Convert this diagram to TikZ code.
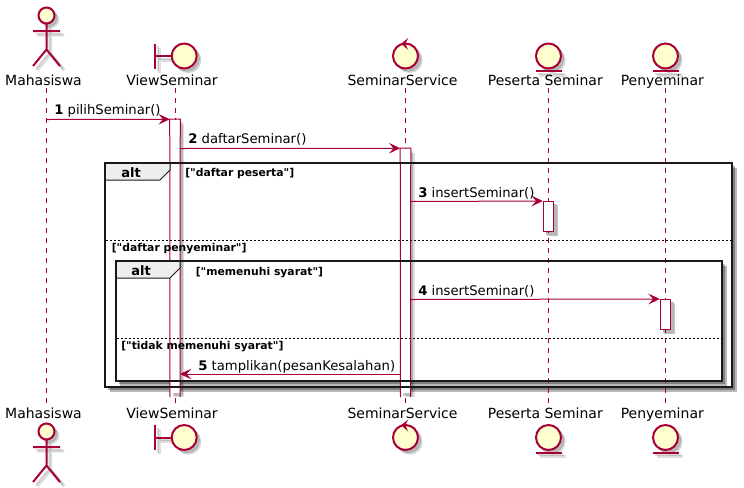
\documentclass[tikz,border=0pt]{standalone}
\usepackage{fontspec}
\setmainfont{DejaVu Sans}
\newfontfamily\guardfont{DejaVu Sans}
\usepackage{tikz}
\usetikzlibrary{positioning,fit,arrows.meta}
\definecolor{umlred}{HTML}{A80036}
\definecolor{umlcream}{HTML}{FEFECE}
\definecolor{tabgray}{HTML}{EEEEEE}
\tikzset{
  softshade/.style={
    preaction={draw=black,fill=black,opacity=.13,transform canvas={shift={(3.2pt,-3.2pt)}}},
    preaction={draw=black,fill=black,opacity=.17,transform canvas={shift={(2.2pt,-2.2pt)}}}},
  lineshade/.style={
    preaction={draw=black,opacity=.13,line width=2.2pt,transform canvas={shift={(3.2pt,-3.2pt)}}},
    preaction={draw=black,opacity=.13,line width=1.5pt,transform canvas={shift={(2.2pt,-2.2pt)}}}},
  glyph/.style={draw=umlred,fill=umlcream,line width=1.5pt,softshade},
  glyphline/.style={draw=umlred,line width=1.5pt,lineshade},
  lifeline/.style={draw=umlred,line width=.75pt,dash pattern=on 3.75pt off 3.75pt},
  actbar/.style={draw=umlred,fill=white,line width=.75pt,inner sep=0pt,softshade},
  openbar/.style={fill=white,inner sep=0pt,
    preaction={fill=black,opacity=.13,transform canvas={shift={(3.2pt,-3.2pt)}}},
    preaction={fill=black,opacity=.17,transform canvas={shift={(2.2pt,-2.2pt)}}}},
  baredge/.style={draw=umlred,line width=.75pt},
  msg/.style={draw=umlred,line width=.75pt,-{Stealth[length=8.5pt,width=8pt,inset=3.5pt]}},
  framefill/.style={fill=white,
    preaction={fill=black,opacity=.28,transform canvas={shift={(3.6pt,-3.6pt)}}},
    preaction={fill=black,opacity=.3,transform canvas={shift={(2.4pt,-2.4pt)}}}},
  framebox/.style={draw=black!90,line width=1.5pt,inner sep=0pt},
  alttab/.style={draw=black!90,fill=tabgray,line width=.75pt},
  splitline/.style={draw=black,line width=.75pt,dash pattern=on 1.5pt off 1.5pt},
  partlabel/.style={font=\fontsize{10.5pt}{12pt}\selectfont,anchor=base,inner sep=0pt},
  msglabel/.style={font=\fontsize{9.9pt}{11pt}\selectfont,anchor=base west,inner sep=0pt},
  altlabel/.style={font=\fontsize{9.75pt}{11pt}\selectfont\bfseries,anchor=base west,inner sep=0pt},
  guardlabel/.style={font=\fontsize{8.1pt}{10pt}\guardfont\bfseries,anchor=base west,inner sep=0pt},
  actorpic/.pic={
    \draw[glyph] (0,0) circle (8);
    \draw[glyphline] (0,8) -- (0,34) (-13.5,15.5) -- (13.5,15.5)
                     (-13.5,50.5) -- (0,34) -- (13.5,50.5);
  },
  boundarypic/.pic={
    \draw[glyphline] (-29,-12.5) -- (-29,12.5) (-29,0) -- (-12.5,0);
    \draw[glyph] (0,0) circle (12.5);
  },
  controlpic/.pic={
    \draw[glyph] (0,0) circle (12.5);
    \fill[umlred] (2.8,-18) -- (-4.2,-12.5) -- (2.6,-6) -- (-.2,-12.5) -- cycle;
  },
  entitypic/.pic={
    \draw[glyph] (0,0) circle (12.5);
    \draw[glyphline] (-13,15) -- (13,15);
  },
}

\begin{document}
\begin{tikzpicture}[x=.75pt,y=-.75pt]
  \useasboundingbox (0,0) rectangle (744,487);
  % frame backgrounds
  \fill[framefill] (105,163) rectangle (732,387);
  \fill[framefill] (115.5,261) rectangle (722,381);
  % participants, top and bottom
  \foreach \name/\xx/\txt in {mah/46.5/Mahasiswa, view/175/ViewSeminar, svc/405.5/SeminarService,
                              pst/548.3/Peserta Seminar, pny/665.3/Penyeminar} {
    \node[partlabel] (\name Top) at (\xx-3,85) {\txt};
    \node[partlabel] (\name Bot) at (\xx-3,418) {\txt};
    \coordinate (\name Start) at (\xx,88);
    \coordinate (\name End) at (\xx,403);
    \draw[lifeline] (\name Start) -- (\name End);
  }
  \pic at (46.5,15.5) {actorpic};
  \pic at (46.5,431.5) {actorpic};
  \pic at (184.2,56) {boundarypic};
  \pic at (184.2,437.5) {boundarypic};
  \pic at (405.5,56) {controlpic};
  \pic at (405.5,437.5) {controlpic};
  \pic at (548.5,56) {entitypic};
  \pic at (548.5,437.5) {entitypic};
  \pic at (665.5,56) {entitypic};
  \pic at (665.5,437.5) {entitypic};
  % activation bars
  \node[openbar,fit={(170,119.5) (180,393)}] (viewBar) {};
  \node[openbar,fit={(400.5,148.5) (410.5,393)}] (svcBar) {};
  \draw[baredge] (170,397) -- (viewBar.north west) -- (viewBar.north east) -- (180,397);
  \draw[baredge] (400.5,397) -- (svcBar.north west) -- (svcBar.north east) -- (410.5,397);
  \node[actbar,fit={(543.3,201.5) (553.3,231.5)}] (pstBar) {};
  \node[actbar,fit={(660.3,299.5) (670.3,329.5)}] (pnyBar) {};
  % alt frames
  \node[framebox,fit={(105,163) (732,387)}] (outerAlt) {};
  \node[framebox,fit={(115.5,261) (722,381)}] (innerAlt) {};
  \draw[alttab] (105,163) -- (170,163) -- (170,170) -- (160,180) -- (105,180) -- cycle;
  \draw[alttab] (115.5,261) -- (180,261) -- (180,268) -- (170,278) -- (115.5,278) -- cycle;
  \draw[framebox] (105,163) -- (170,163) (105,163) -- (105,180);
  \draw[framebox] (115.5,261) -- (180,261) (115.5,261) -- (115.5,278);
  \coordinate (splitOuter) at (106,240);
  \coordinate (splitInner) at (116.5,338);
  \draw[splitline] (splitOuter) -- (splitOuter -| outerAlt.east);
  \draw[splitline] (splitInner) -- (splitInner -| innerAlt.east);
  \node[altlabel] (altOuter) at (121,177) {alt};
  \node[altlabel] (altInner) at (131,275) {alt};
  \node[guardlabel] (guardA) at (185,176.5) {["daftar peserta"]};
  \node[guardlabel] (guardB) at (111.5,251) {["daftar penyeminar"]};
  \node[guardlabel] (guardC) at (195.5,275) {["memenuhi syarat"]};
  \node[guardlabel] (guardD) at (121,349) {["tidak memenuhi syarat"]};
  % messages
  \coordinate (msgOneFrom) at (46.5,119.5);
  \coordinate (msgTwoFrom) at (180,148.5);
  \coordinate (msgThreeFrom) at (410.5,201.5);
  \coordinate (msgFourFrom) at (410.5,299.5);
  \coordinate (msgFiveFrom) at (400.5,374);
  \coordinate (msgFiveTo) at (180,374);
  \draw[msg] (msgOneFrom) -- (viewBar.north west);
  \draw[msg] (msgTwoFrom) -- (svcBar.north west);
  \draw[msg] (msgThreeFrom) -- (pstBar.north west);
  \draw[msg] (msgFourFrom) -- (pnyBar.north west);
  \draw[msg] (msgFiveFrom) -- (msgFiveTo);
  \node[msglabel] (msgOne) at (54,114) {\textbf{1} pilihSeminar()};
  \node[msglabel] (msgTwo) at (188,143) {\textbf{2} daftarSeminar()};
  \node[msglabel] (msgThree) at (418,197) {\textbf{3} insertSeminar()};
  \node[msglabel] (msgFour) at (418,295) {\textbf{4} insertSeminar()};
  \node[msglabel] (msgFive) at (198,370) {\textbf{5} tamplikan(pesanKesalahan)};
\end{tikzpicture}
\end{document}
